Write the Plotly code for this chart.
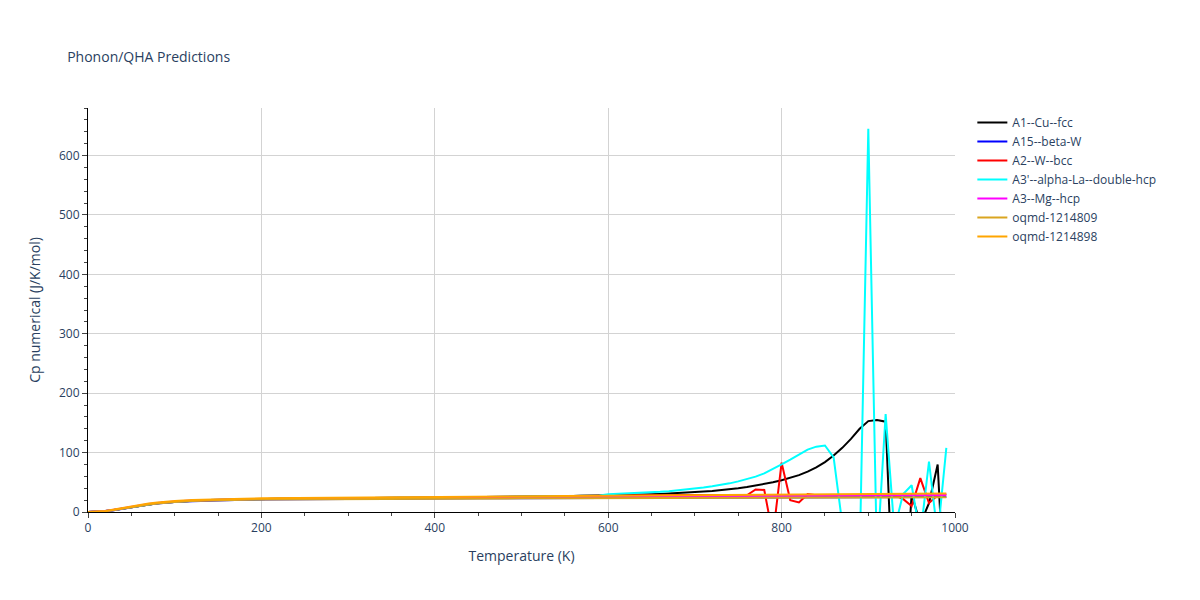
import plotly.graph_objects as go

# temperatures (K)
t_fine = list(range(0, 1000, 10))
t_coarse = [0, 10, 20, 30, 40, 50, 60, 70, 80, 90, 100, 120, 140, 160, 180, 200,
            250, 300, 350, 400, 450, 500, 550, 600, 650, 700, 750, 800, 850, 900, 950, 990]

# smooth low-T part shared by the first 60 points (0..590 K)
low_T = [0, 0.3, 1.5, 3.5, 6, 8.5, 11, 13, 14.8, 16.2, 17.3, 18.2, 19, 19.6, 20.1, 20.5, 20.9, 21.2,
         21.5, 21.7, 21.9, 22.1, 22.3, 22.4, 22.6, 22.7, 22.8, 22.9, 23.0, 23.1, 23.2, 23.3, 23.4,
         23.5, 23.6, 23.7, 23.8, 23.9, 24.0, 24.1, 24.2, 24.3, 24.4, 24.5, 24.6, 24.8, 25.0, 25.2,
         25.4, 25.6, 25.8, 26.0, 26.2, 26.4, 26.6, 26.8, 27.0, 27.2, 27.4, 27.6]

# 600..990 K
cu_high = [27.9, 28.2, 28.5, 28.9, 29.3, 29.8, 30.3, 30.9, 31.6, 32.4, 33.3, 34.3, 35.4, 36.7,
           38.2, 40, 42, 44.3, 47, 50, 53.5, 57.5, 62, 68, 75, 84, 95, 108, 123, 140, 153, 155,
           152, -200, -200, 30, -20, 15, 80, -200]
la_high = [30, 30.5, 31, 31.6, 32.3, 33, 34, 35, 36.3, 37.8, 39.5, 41.3, 43.3, 45.6, 48.2, 51.5,
           55, 59.5, 65, 72, 80, 88, 96, 105, 110, 112, 92, -20, -60, -80, 645, -80, 165, -30,
           30, 45, -40, 85, -40, 108]
w_high = [27.8, 28.0, 28.1, 28.2, 28.3, 28.3, 28.4, 28.4, 28.5, 28.5, 28.5, 28.6, 28.6,
          28.6, 28.6, 28.3, 28, 38, 37, -40, 83, 20, 16, 30, 28, 28, 28, 28, 28, 28, 28,
          28, 28, 28, 22, 10, 57, 15, 28, 30]

cu_fcc = low_T + cu_high
alpha_la = low_T + la_high
w_bcc = low_T + w_high

beta_w = [0, 0.3, 1.3, 3, 5.5, 8, 10.5, 12.5, 14.2, 15.6, 16.7, 18.3, 19.4, 20.2, 20.7, 21.1,
          21.7, 22.1, 22.4, 22.7, 23.0, 23.2, 23.4, 23.6, 23.8, 24.0, 24.2, 24.4, 24.6, 24.8, 25.0, 25.2]
mg_hcp = [0, 0.3, 1.6, 3.8, 6.4, 9, 11.4, 13.4, 15.1, 16.5, 17.6, 19.2, 20.3, 21.0, 21.5, 21.9,
          22.6, 23.1, 23.6, 24.0, 24.4, 24.8, 25.2, 25.6, 26.0, 26.4, 26.8, 27.2, 27.6, 28.0, 28.3, 28.6]
oqmd_809 = [0, 0.3, 1.4, 3.2, 5.8, 8.3, 10.8, 12.8, 14.5, 15.9, 17.0, 18.6, 19.6, 20.3, 20.8, 21.2,
            21.7, 22.0, 22.3, 22.6, 22.8, 23.0, 23.2, 23.4, 23.6, 23.8, 24.0, 24.2, 24.4, 24.6, 24.8, 25.0]
oqmd_898 = [0, 0.4, 1.8, 4.2, 7, 9.8, 12.3, 14.3, 16, 17.4, 18.5, 20.1, 21.2, 21.9, 22.5, 23.0,
            23.7, 24.3, 24.8, 25.3, 25.8, 26.3, 26.8, 27.3, 27.8, 28.3, 28.8, 29.3, 29.8, 30.3, 30.8, 31.2]

series = [
    ("A1--Cu--fcc", t_fine, cu_fcc, "black"),
    ("A15--beta-W", t_coarse, beta_w, "blue"),
    ("A2--W--bcc", t_fine, w_bcc, "red"),
    ("A3'--alpha-La--double-hcp", t_fine, alpha_la, "cyan"),
    ("A3--Mg--hcp", t_coarse, mg_hcp, "magenta"),
    ("oqmd-1214809", t_coarse, oqmd_809, "goldenrod"),
    ("oqmd-1214898", t_coarse, oqmd_898, "orange"),
]

fig = go.Figure()
for name, x, y, c in series:
    fig.add_trace(go.Scatter(x=x, y=y, mode="lines", name=name, line=dict(color=c, width=2)))

axis_common = dict(showline=True, linecolor="black", ticks="outside", gridcolor="lightgray",
                   zeroline=False, minor=dict(ticks="outside", ticklen=3))
fig.update_xaxes(title_text="Temperature (K)", range=[0, 1000], dtick=200, **axis_common)
fig.update_yaxes(title_text="Cp numerical (J/K/mol)", range=[0, 680], dtick=100, **axis_common)
fig.update_layout(
    title=dict(text="Phonon/QHA Predictions", x=0.05, y=0.925, font=dict(size=14)),
    plot_bgcolor="white", paper_bgcolor="white",
    margin=dict(l=80, r=237, t=100, b=80),
    legend=dict(x=1.02, y=1, font=dict(size=12)),
)
fig.write_html("out.html")
